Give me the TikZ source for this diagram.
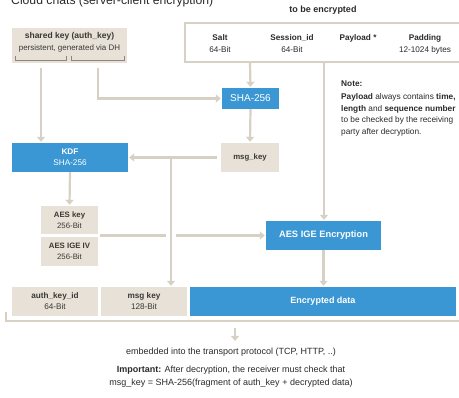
\documentclass[tikz,border=0pt]{standalone}
\usepackage{fontspec}
\setmainfont{Liberation Sans}
\usetikzlibrary{arrows.meta}
\definecolor{beige}{HTML}{E7E1D7}
\definecolor{bblue}{HTML}{3A97D3}
\definecolor{lgray}{HTML}{D6D0C5}
\definecolor{bracketc}{HTML}{8C867C}
\definecolor{txt}{HTML}{2A2A2A}
\definecolor{btxt}{HTML}{3A3835}
\tikzset{
  beigebox/.style={fill=beige, draw=none, inner sep=0pt, align=center, text=btxt, font=\fontsize{7.8}{10.5}\selectfont},
  bluebox/.style={fill=bblue, draw=none, inner sep=0pt, align=center, text=white, font=\fontsize{8.2}{11}\selectfont},
  conn/.style={draw=lgray, line width=2.2pt, -{Triangle[width=8pt,length=5pt]}, shorten >=1pt},
  plainline/.style={draw=lgray, line width=2.2pt},
  field/.style={align=center, text=txt, font=\fontsize{8.2}{12}\selectfont, inner sep=0pt},
  brk/.style={draw=bracketc, line width=0.9pt},
}
\begin{document}
\begin{tikzpicture}[x=1pt,y=-1pt]
\useasboundingbox (0,0) rectangle (459,398);
% title (cut at top)
\node[anchor=base west, inner sep=0pt, text=txt, font=\fontsize{12.2}{14}\selectfont] (title) at (11,5) {Cloud chats (server-client encryption)};
\node[inner sep=0pt, text=txt, font=\bfseries\fontsize{9}{10}\selectfont] (tbe) at (323,10) {to be encrypted};
% top bracket
\draw[plainline] (462,23) -- (185,23) -- (185,62) -- (462,62);
\node[field] (salt) at (220,44) {\textbf{Salt}\\64-Bit};
\node[field] (sess) at (292,44) {\textbf{Session\_id}\\64-Bit};
\node[field, anchor=center] (pay) at (358,38) {\textbf{Payload *}};
\node[field] (pad) at (425,44) {\textbf{Padding}\\12-1024 bytes};
% shared key
\node[beigebox, minimum width=115pt, minimum height=35pt] (sk) at (69.5,45.5) {};
\node[field, text=btxt, font=\fontsize{8}{12}\selectfont] (sktxt) at (69.5,42) {{\fontsize{8.5}{12}\selectfont\textbf{shared key (auth\_key)}}\\persistent, generated via DH};
\draw[brk] (15,56) -- (15,60) -- (66,60) -- (66,56);
\draw[brk] (71,56) -- (71,60) -- (124,60) -- (124,56);
% SHA-256
\node[bluebox, minimum width=57pt, minimum height=21pt, font=\fontsize{10}{12}\selectfont] (sha) at (250.5,98.5) {SHA-256};
% msg_key
\node[beigebox, minimum width=58pt, minimum height=29pt] (mk) at (250,157.5) {\textbf{msg\_key}};
% KDF
\node[bluebox, minimum width=116pt, minimum height=29pt] (kdf) at (70,157.5) {\textbf{KDF}\\SHA-256};
% AES key / IV
\node[beigebox, minimum width=57pt, minimum height=28pt] (aeskey) at (69.5,220) {\textbf{AES key}\\256-Bit};
\node[beigebox, minimum width=57pt, minimum height=29pt] (aesiv) at (69.5,251.5) {\textbf{AES IGE IV}\\256-Bit};
% AES IGE Encryption
\node[bluebox, minimum width=115pt, minimum height=29pt, font=\bfseries\fontsize{9.3}{10}\selectfont] (enc) at (323.5,235.5) {AES IGE Encryption};
% Note
\node[anchor=west, inner sep=0pt, text=txt, font=\bfseries\fontsize{8.3}{10}\selectfont] (note) at (341,84) {Note:};
\node[anchor=north west, inner sep=0pt, align=left, text=txt, font=\fontsize{8.3}{11.8}\selectfont] (notetxt) at (341,93) {\textbf{Payload} always contains \textbf{time,}\\\textbf{length} and \textbf{sequence number}\\to be checked by the receiving\\party after decryption.};
% bottom row
\node[beigebox, minimum width=86pt, minimum height=29pt, font=\fontsize{8.2}{11}\selectfont] (akid) at (55,301.5) {\textbf{auth\_key\_id}\\64-Bit};
\node[beigebox, minimum width=86pt, minimum height=29pt, font=\fontsize{8.2}{11}\selectfont] (mk2) at (144,301.5) {\textbf{msg key}\\128-Bit};
\node[bluebox, minimum width=266pt, minimum height=29pt, font=\bfseries\fontsize{9}{10}\selectfont] (encd) at (323,301.5) {Encrypted data};
\draw[plainline] (6,312) -- (6,321) -- (462,321);
% bottom texts
\coordinate (bb) at (235,322);
\node[inner sep=0pt, text=txt, font=\fontsize{9}{10}\selectfont] (emb) at (231,352) {embedded into the transport protocol (TCP, HTTP, ..)};
\node[inner sep=0pt, text=txt, font=\fontsize{9}{10}\selectfont] (imp1) at (231,370) {\textbf{Important:} After decryption, the receiver must check that};
\node[inner sep=0pt, text=txt, font=\fontsize{9}{10}\selectfont] (imp2) at (231,383.5) {msg\_key = SHA-256(fragment of auth\_key + decrypted data)};
% connectors
\coordinate (tb1) at (250,63);
\coordinate (tb2) at (324,63);
\draw[conn] (tb1) -- (sha.north);
\draw[conn] (tb2) -- (tb2 |- enc.north);
\draw[conn] (sha.south) -- (mk.north);
\coordinate (sk1) at (41,68);
\coordinate (sk2) at (98,68);
\draw[conn] (sk1) -- (sk1 |- kdf.north);
\draw[conn] (sk2) -- (sk2 |- sha.west) -- (sha.west);
\draw[conn] ([xshift=-4pt]mk.west) -- (kdf.east);
\coordinate (j1) at (171,157.5);
\draw[conn] (j1) -- (j1 |- mk2.north);
\draw[conn] (kdf.south) -- (aeskey.north);
\coordinate (h1) at (100,235.5);
\coordinate (h2) at (166,235.5);
\coordinate (h3) at (176,235.5);
\draw[plainline] (h1) -- (h2);
\draw[conn] (h3) -- (enc.west);
\draw[conn] (enc.south) -- (enc.south |- encd.north);
\draw[conn] ([yshift=-6pt]bb) -- ([yshift=-20pt]bb);
\end{tikzpicture}
\end{document}
